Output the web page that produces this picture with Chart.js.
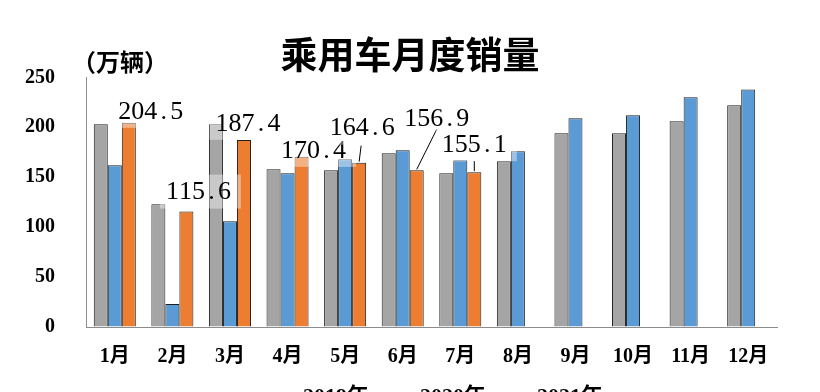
<!DOCTYPE html>
<html>
<head>
<meta charset="utf-8">
<title>乘用车月度销量</title>
<script src="https://cdn.jsdelivr.net/npm/chart.js@4/dist/chart.umd.min.js"></script>
<style>
    html, body { margin: 0; padding: 0; background: #ffffff; overflow: hidden; }
    #wrap { position: relative; width: 820px; height: 418px; }
</style>
</head>
<body>
<div id="wrap"><canvas id="salesChart"></canvas></div>
<script>
// ---------- Data ----------

const months = ["1月", "2月", "3月", "4月", "5月", "6月", "7月", "8月", "9月", "10月", "11月", "12月"];
const seriesNames = ["2019年", "2020年", "2021年"];
const sales2019 = [203, 123, 203, 158, 157, 174, 154, 166, 194, 194, 206, 222];
const sales2020 = [162, 23, 106, 154, 168, 177, 167, 176, 209, 212, 230, 238];
const sales2021 = [204.5, 115.6, 187.4, 170.4, 164.6, 156.9, 155.1, null, null, null, null, null];
const yTicks = [0, 50, 100, 150, 200, 250];

// label placement (px from bar top), as placed by hand in the original
const labelOffsets = [[22, -12], [12, -20], [4, -17], [12, -7], [3, -35], [20, -52], [0, -28]];
const leaderStarts = { 4: [-1, 18], 5: [0, 11], 6: [0, 17] };

const CJK = '"Noto Sans CJK SC"';
const SERIF = '"Liberation Serif", ' + CJK;

// ---------- Plugins ----------

const unitLabel = {
    id: "unitLabel",
    afterDraw(chart) {
        const c = chart.ctx;
        c.save();
        c.font = "bold 24px " + CJK;
        c.fillStyle = "#000";
        c.textBaseline = "middle";
        c.fillText("（万辆）", 72, 62);
        c.restore();
    }
};

// values drawn in fixed cells, like the half-width font of the original
function drawCells(c, txt, cx, cy, cell) {
    let x = cx - (txt.length * cell) / 2 + cell / 2;
    for (const ch of txt) {
        c.fillText(ch, x, cy);
        x += cell;
    }
}

const valueLabels = {
    id: "valueLabels",
    afterDatasetsDraw(chart) {
        const c = chart.ctx;
        const meta = chart.getDatasetMeta(2);
        c.save();
        c.font = '26px "Liberation Serif"';
        c.textAlign = "center";
        c.textBaseline = "middle";
        meta.data.forEach((bar, i) => {
            const v = sales2021[i];
            if (v == null) return;
            const off = labelOffsets[i];
            const lx = bar.x + off[0];
            const ly = bar.y + off[1];
            const txt = v.toFixed(1);
            const w = txt.length * 13;

            c.fillStyle = "rgba(255,255,255,0.4)";
            c.fillRect(lx - w / 2 - 6, ly - 17, w + 16, 34);

            if (leaderStarts[i]) {
                const s = leaderStarts[i];
                c.strokeStyle = "#000";
                c.lineWidth = 1;
                c.beginPath();
                c.moveTo(lx + s[0], ly + s[1]);
                c.lineTo(bar.x, bar.y - 1);
                c.stroke();
            }

            c.fillStyle = "#000";
            drawCells(c, txt, lx, ly + 1, 13);
        });
        c.restore();
    }
};

// ---------- Chart ----------

const ctx = document.getElementById("salesChart");

new Chart(ctx, {
    type: "bar",
    data: {
        labels: months,
        datasets: [
            {
                label: seriesNames[0],
                data: sales2019,
                backgroundColor: "#a5a5a5",
                borderColor: "#1e1e1e",
                borderWidth: 1
            },
            {
                label: seriesNames[1],
                data: sales2020,
                backgroundColor: "#5b9bd5",
                borderColor: "#1e1e1e",
                borderWidth: 1
            },
            {
                label: seriesNames[2],
                data: sales2021,
                backgroundColor: "#ed7d31",
                borderColor: "#1e1e1e",
                borderWidth: 1
            }
        ]
    },
    options: {
        responsive: true,
        maintainAspectRatio: false,
        animation: false,
        categoryPercentage: 0.73,
        barPercentage: 1.0,
        layout: {
            padding: 0
        },
        plugins: {
            title: {
                display: true,
                text: "乘用车月度销量",
                color: "#000",
                font: { family: CJK, size: 37, weight: "bold" },
                padding: { top: 33, bottom: 0 }
            },
            legend: {
                position: "bottom",
                fullSize: false,
                labels: {
                    color: "#000",
                    boxWidth: 32,
                    boxHeight: 8,
                    padding: 8,
                    font: { family: SERIF, size: 22, weight: "bold" }
                }
            },
            tooltip: { enabled: false }
        },
        scales: {
            x: {
                grid: { display: true, drawOnChartArea: false, drawTicks: false },
                border: { display: true, color: "#8c8c8c", width: 1 },
                ticks: {
                    color: "#000",
                    padding: 18,
                    maxRotation: 0,
                    font: { family: SERIF, size: 20, weight: "bold" }
                },
                afterFit(scale) { scale.height = 51; }
            },
            y: {
                min: 0,
                max: 250,
                afterBuildTicks(scale) {
                    scale.ticks = yTicks.map(v => ({ value: v }));
                },
                grid: { display: true, drawOnChartArea: false, drawTicks: false },
                border: { display: true, color: "#8c8c8c", width: 1 },
                ticks: {
                    color: "#000",
                    padding: 31,
                    font: { family: SERIF, size: 20, weight: "bold" }
                },
                afterFit(scale) { scale.width = 86; }
            },
            // empty right margin, keeps the title centred on the page
            yRight: {
                position: "right",
                grid: { display: false },
                border: { display: false },
                ticks: { display: false },
                afterFit(scale) { scale.width = 43; }
            }
        }
    },
    plugins: [unitLabel, valueLabels]
});
</script>
</body>
</html>
